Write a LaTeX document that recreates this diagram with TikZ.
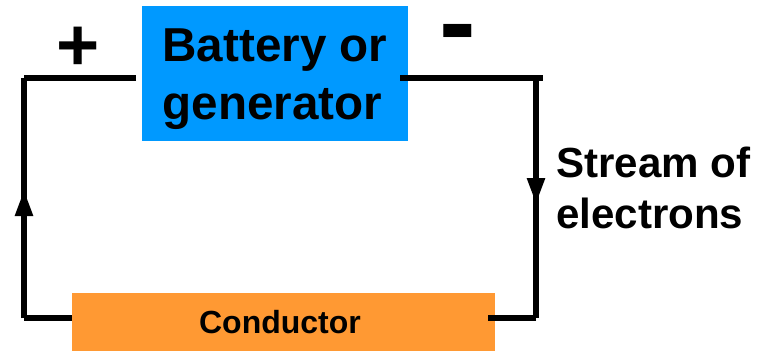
\documentclass[tikz,border=0pt]{standalone}
\usepackage{fontspec}
\setmainfont{Liberation Sans}
\usetikzlibrary{arrows.meta}
\definecolor{batteryblue}{HTML}{0099FF}
\definecolor{conductororange}{HTML}{FF9933}

\begin{document}
\begin{tikzpicture}[x=1pt,y=-1pt]
% style des nœuds
\tikzstyle{box}=[rectangle,inner sep=0pt,align=left]
\tikzstyle{caption}=[inner sep=0pt,align=left]
% style des fils
\tikzstyle{wire}=[line width=5.5pt,black]
\tikzstyle{flow}=[wire,-{Triangle[length=26pt,width=17pt]}]
\useasboundingbox (0,0) rectangle (767,351);
% placement des nœuds
\node[box,fill=batteryblue,minimum width=266pt,minimum height=135pt,font=\bfseries\fontsize{47.6pt}{58pt}\selectfont] (battery) at (275,73.5) {\rule{0pt}{45pt}Battery or\\generator};
\node[box,fill=conductororange,minimum width=423pt,minimum height=58pt,font=\bfseries\fontsize{32pt}{36pt}\selectfont] (conductor) at (283.5,322) {Conductor\hspace*{7pt}};
\node[caption,anchor=west,font=\bfseries\fontsize{42.1pt}{51pt}\selectfont] (stream) at (556,188) {Stream of\\electrons};
\node[caption,font=\bfseries\fontsize{74pt}{74pt}\selectfont] (plus) at (78,48.5) {+};
\node[caption,font=\bfseries\fontsize{110pt}{110pt}\selectfont] (minus) at (458,42) {-};
% points des fils
\coordinate (topleft) at (24,78);
\coordinate (topright) at (536,78);
\coordinate (bottomleft) at (24,318);
\coordinate (bottomright) at (536,318);
\coordinate (arrowleft) at (24,190);
\coordinate (arrowright) at (536,204);
\coordinate (batteryleft) at (136,78);
\coordinate (batteryright) at (400,78);
\coordinate (conductorleft) at (72,318);
\coordinate (conductorright) at (488,318);
% placement des fils
\draw[wire] (batteryleft) -- (topleft);
\draw[wire] (batteryright) -- ([xshift=7pt]topright);
\draw[wire] (topright) -- (bottomright);
\draw[flow] (topright) -- (arrowright);
\draw[wire] (bottomright) -- (conductorright);
\draw[wire] (conductorleft) -- (bottomleft);
\draw[wire] (bottomleft) -- (topleft);
\draw[flow] (bottomleft) -- (arrowleft);
\end{tikzpicture}
\end{document}
